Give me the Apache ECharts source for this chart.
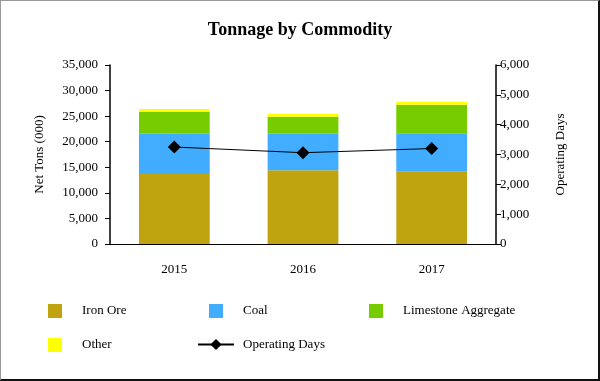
<!DOCTYPE html>
<html>
<head>
<meta charset="utf-8">
<script src="https://cdn.jsdelivr.net/npm/echarts@6/dist/echarts.min.js"></script>
<style>
html,body{margin:0;padding:0;background:#fff;}
#wrap{position:absolute;left:0;top:0;width:600px;height:381px;box-sizing:border-box;border-left:1px solid #999;border-top:1px solid #999;border-right:2px solid #111;border-bottom:2px solid #111;}
#chart{position:absolute;left:-1px;top:-1px;width:600px;height:381px;}
</style>
</head>
<body>
<div id="wrap"><div id="chart"></div></div>
<script>
var categories = ['2015', '2016', '2017'];
var ironOre = [13700, 14400, 14150];
var coal = [7870, 7170, 7490];
var limestone = [4240, 3330, 5600];
var other = [590, 520, 530];
var operatingDays = [3250, 3060, 3200];
var leftTicks = [0, 35000, 5000];
var rightTicks = [0, 6000, 1000];

var font = 'Liberation Serif';
var fmt = function (v) { return v.toLocaleString('en-US'); };
var chart = echarts.init(document.getElementById('chart'));

function sqLegend(name, left, top) {
  return {
    data: [name], left: left, top: top, orient: 'horizontal', padding: 0,
    itemWidth: 14, itemHeight: 14, icon: 'rect',
    textStyle: { fontFamily: font, fontSize: 13, color: '#000', padding: [0, 0, 0, 15] }
  };
}

chart.setOption({
  animation: false,
  title: {
    text: 'Tonnage by Commodity', left: 'center', top: 16,
    textStyle: { fontFamily: font, fontSize: 18, fontWeight: 'bold', color: '#000' }
  },
  legend: [
    sqLegend('Iron Ore', 48, 304),
    sqLegend('Coal', 209, 304),
    sqLegend('Limestone Aggregate', 369, 304),
    sqLegend('Other', 48, 338),
    {
      data: ['Operating Days'], left: 197, top: 338, padding: 0,
      itemWidth: 36, itemHeight: 14,
      textStyle: { fontFamily: font, fontSize: 13, color: '#000', padding: [0, 0, 0, 4] }
    }
  ],
  grid: { left: 110, right: 104, top: 65, bottom: 137 },
  xAxis: {
    type: 'category', data: categories,
    axisLine: { lineStyle: { color: '#000', width: 1 } },
    axisTick: { alignWithLabel: true, length: 5, lineStyle: { color: '#000' } },
    axisLabel: { fontFamily: font, fontSize: 13, color: '#000', margin: 19 }
  },
  yAxis: [
    {
      type: 'value', min: leftTicks[0], max: leftTicks[1], interval: leftTicks[2],
      name: 'Net Tons (000)', nameLocation: 'middle', nameGap: 64,
      nameTextStyle: { fontFamily: font, fontSize: 13, color: '#000' },
      axisLine: { show: true, lineStyle: { color: '#000', width: 1.5 } },
      axisTick: { show: true, length: 5, lineStyle: { color: '#000' } },
      axisLabel: { fontFamily: font, fontSize: 13, color: '#000', margin: 12, formatter: fmt },
      splitLine: { show: false }
    },
    {
      type: 'value', min: rightTicks[0], max: rightTicks[1], interval: rightTicks[2],
      name: 'Operating Days', nameLocation: 'middle', nameGap: 58,
      nameTextStyle: { fontFamily: font, fontSize: 13, color: '#000' },
      axisLine: { show: true, lineStyle: { color: '#000', width: 1.5 } },
      axisTick: { show: true, length: 5, lineStyle: { color: '#000' } },
      axisLabel: { fontFamily: font, fontSize: 13, color: '#000', margin: 4, formatter: fmt },
      splitLine: { show: false }
    }
  ],
  series: [
    { name: 'Iron Ore', type: 'bar', stack: 't', data: ironOre, barWidth: '55%', itemStyle: { color: '#BFA40F' } },
    { name: 'Coal', type: 'bar', stack: 't', data: coal, itemStyle: { color: '#42ACFF' } },
    { name: 'Limestone Aggregate', type: 'bar', stack: 't', data: limestone, itemStyle: { color: '#77CC00' } },
    { name: 'Other', type: 'bar', stack: 't', data: other, itemStyle: { color: '#FFFF00' } },
    {
      name: 'Operating Days', type: 'line', yAxisIndex: 1, data: operatingDays,
      symbol: 'diamond', symbolSize: 13, showSymbol: true,
      lineStyle: { color: '#000', width: 1 }, itemStyle: { color: '#000' }
    }
  ]
});
</script>
</body>
</html>
